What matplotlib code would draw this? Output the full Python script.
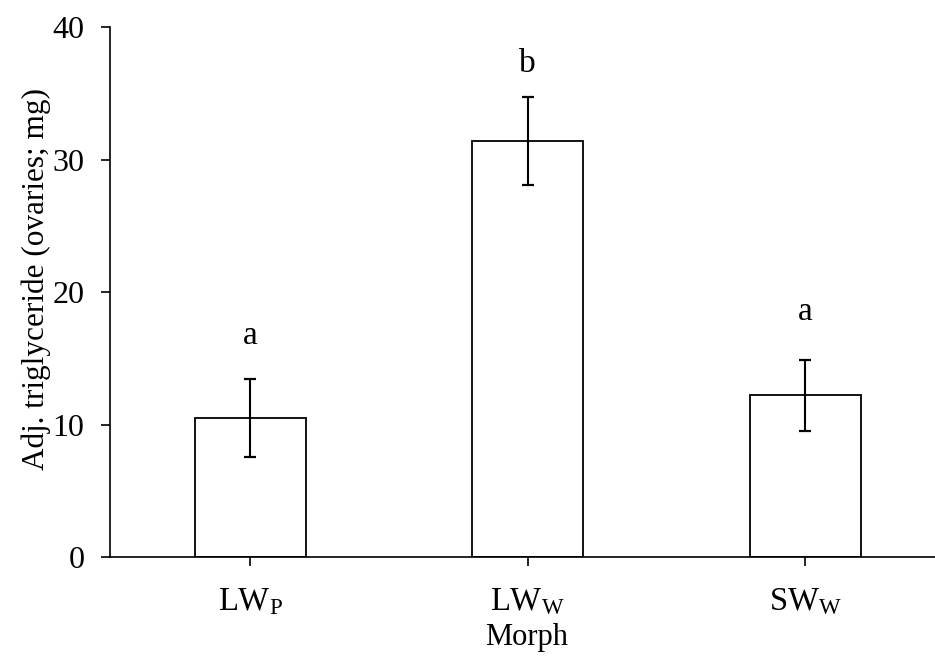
import numpy as np
import matplotlib
matplotlib.use('Agg')
import matplotlib.pyplot as plt

# --- dados ---
morfos = [r'LW$_{\mathrm{P}}$', r'LW$_{\mathrm{W}}$', r'SW$_{\mathrm{W}}$']
medias = [10.5, 31.4, 12.2]
erros = [2.95, 3.35, 2.7]
letras = ['a', 'b', 'a']
letras_y = [16.1, 36.6, 17.9]

plt.rcParams['font.family'] = ['Liberation Serif', 'DejaVu Serif']
plt.rcParams['mathtext.fontset'] = 'custom'
plt.rcParams['mathtext.rm'] = 'Liberation Serif'
plt.rcParams['mathtext.it'] = 'Liberation Serif:italic'

fig = plt.figure(figsize=(9.35, 6.6), dpi=100)
ax = fig.add_axes([110 / 935, 103 / 660, 1 - 110 / 935, (557 - 27) / 660])

x = np.arange(len(morfos))
ax.bar(x, medias, width=0.4, facecolor='white', edgecolor='black', linewidth=1.3, zorder=2)
ax.errorbar(x, medias, yerr=erros, fmt='none', ecolor='black', elinewidth=1.5,
            capsize=4, capthick=1.6, zorder=3)

for xi, letra, ly in zip(x, letras, letras_y):
    ax.text(xi, ly, letra, ha='center', va='baseline', fontsize=24)

ax.set_xlim(-0.505, 2.468)
ax.set_ylim(0, 40)
ax.set_yticks([0, 10, 20, 30, 40])
ax.set_xticks(x)
ax.set_xticklabels(morfos, fontsize=23.5)
ax.tick_params(axis='y', labelsize=23, length=6.5, width=1.2, pad=12)
ax.tick_params(axis='x', length=6.5, width=1.2, pad=15)

ax.spines['top'].set_visible(False)
ax.spines['right'].set_visible(False)
ax.spines['left'].set_linewidth(1.2)
ax.spines['bottom'].set_linewidth(1.2)

ax.set_ylabel('Adj. triglyceride (ovaries; mg)', fontsize=22.5)
ax.set_xlabel('Morph', fontsize=22)
ax.yaxis.set_label_coords(-0.072, 0.524)
ax.xaxis.set_label_coords(0.505, -0.124)

fig.savefig('out.png', dpi=100)
